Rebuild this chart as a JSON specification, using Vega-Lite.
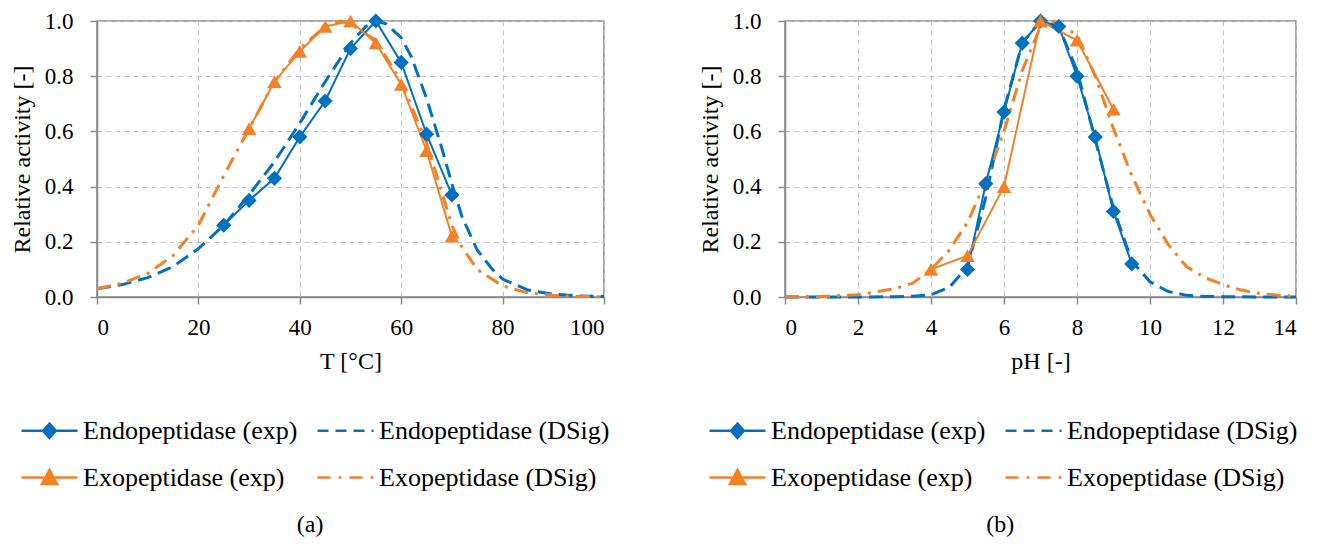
{
  "$schema": "https://vega.github.io/schema/vega-lite/v6.json",
  "background": "white",
  "padding": {"left": 9, "top": 9, "right": 5, "bottom": 5},
  "datasets": {
    "temp": [
      {"series": "Endopeptidase (exp)", "x": 25, "y": 0.26},
      {"series": "Endopeptidase (exp)", "x": 30, "y": 0.35},
      {"series": "Endopeptidase (exp)", "x": 35, "y": 0.43},
      {"series": "Endopeptidase (exp)", "x": 40, "y": 0.58},
      {"series": "Endopeptidase (exp)", "x": 45, "y": 0.71},
      {"series": "Endopeptidase (exp)", "x": 50, "y": 0.90},
      {"series": "Endopeptidase (exp)", "x": 55, "y": 1.00},
      {"series": "Endopeptidase (exp)", "x": 60, "y": 0.85},
      {"series": "Endopeptidase (exp)", "x": 65, "y": 0.59},
      {"series": "Endopeptidase (exp)", "x": 70, "y": 0.37},
      {"series": "Exopeptidase (exp)", "x": 30, "y": 0.61},
      {"series": "Exopeptidase (exp)", "x": 35, "y": 0.78},
      {"series": "Exopeptidase (exp)", "x": 40, "y": 0.89},
      {"series": "Exopeptidase (exp)", "x": 45, "y": 0.98},
      {"series": "Exopeptidase (exp)", "x": 50, "y": 1.00},
      {"series": "Exopeptidase (exp)", "x": 55, "y": 0.92},
      {"series": "Exopeptidase (exp)", "x": 60, "y": 0.77},
      {"series": "Exopeptidase (exp)", "x": 65, "y": 0.53},
      {"series": "Exopeptidase (exp)", "x": 70, "y": 0.22},
      {"series": "Endopeptidase (DSig)", "x": 0, "y": 0.03},
      {"series": "Endopeptidase (DSig)", "x": 5, "y": 0.045},
      {"series": "Endopeptidase (DSig)", "x": 10, "y": 0.07},
      {"series": "Endopeptidase (DSig)", "x": 15, "y": 0.11},
      {"series": "Endopeptidase (DSig)", "x": 20, "y": 0.175},
      {"series": "Endopeptidase (DSig)", "x": 25, "y": 0.26},
      {"series": "Endopeptidase (DSig)", "x": 30, "y": 0.37},
      {"series": "Endopeptidase (DSig)", "x": 35, "y": 0.49},
      {"series": "Endopeptidase (DSig)", "x": 40, "y": 0.63},
      {"series": "Endopeptidase (DSig)", "x": 45, "y": 0.78},
      {"series": "Endopeptidase (DSig)", "x": 50, "y": 0.92},
      {"series": "Endopeptidase (DSig)", "x": 53, "y": 0.98},
      {"series": "Endopeptidase (DSig)", "x": 55, "y": 1.0},
      {"series": "Endopeptidase (DSig)", "x": 57, "y": 0.99},
      {"series": "Endopeptidase (DSig)", "x": 60, "y": 0.94},
      {"series": "Endopeptidase (DSig)", "x": 62, "y": 0.87},
      {"series": "Endopeptidase (DSig)", "x": 65, "y": 0.72},
      {"series": "Endopeptidase (DSig)", "x": 68, "y": 0.54},
      {"series": "Endopeptidase (DSig)", "x": 70, "y": 0.41},
      {"series": "Endopeptidase (DSig)", "x": 72, "y": 0.29},
      {"series": "Endopeptidase (DSig)", "x": 75, "y": 0.17},
      {"series": "Endopeptidase (DSig)", "x": 78, "y": 0.10},
      {"series": "Endopeptidase (DSig)", "x": 80, "y": 0.065},
      {"series": "Endopeptidase (DSig)", "x": 85, "y": 0.025},
      {"series": "Endopeptidase (DSig)", "x": 90, "y": 0.01},
      {"series": "Endopeptidase (DSig)", "x": 95, "y": 0.004},
      {"series": "Endopeptidase (DSig)", "x": 100, "y": 0.002},
      {"series": "Exopeptidase (DSig)", "x": 0, "y": 0.03},
      {"series": "Exopeptidase (DSig)", "x": 5, "y": 0.05},
      {"series": "Exopeptidase (DSig)", "x": 10, "y": 0.085},
      {"series": "Exopeptidase (DSig)", "x": 15, "y": 0.15},
      {"series": "Exopeptidase (DSig)", "x": 20, "y": 0.26},
      {"series": "Exopeptidase (DSig)", "x": 25, "y": 0.44},
      {"series": "Exopeptidase (DSig)", "x": 30, "y": 0.61},
      {"series": "Exopeptidase (DSig)", "x": 35, "y": 0.78},
      {"series": "Exopeptidase (DSig)", "x": 40, "y": 0.90},
      {"series": "Exopeptidase (DSig)", "x": 45, "y": 0.98},
      {"series": "Exopeptidase (DSig)", "x": 48, "y": 1.0},
      {"series": "Exopeptidase (DSig)", "x": 50, "y": 0.99},
      {"series": "Exopeptidase (DSig)", "x": 55, "y": 0.93},
      {"series": "Exopeptidase (DSig)", "x": 60, "y": 0.78},
      {"series": "Exopeptidase (DSig)", "x": 65, "y": 0.56},
      {"series": "Exopeptidase (DSig)", "x": 68, "y": 0.38},
      {"series": "Exopeptidase (DSig)", "x": 70, "y": 0.26},
      {"series": "Exopeptidase (DSig)", "x": 72, "y": 0.18},
      {"series": "Exopeptidase (DSig)", "x": 75, "y": 0.10},
      {"series": "Exopeptidase (DSig)", "x": 80, "y": 0.04},
      {"series": "Exopeptidase (DSig)", "x": 85, "y": 0.015},
      {"series": "Exopeptidase (DSig)", "x": 90, "y": 0.006},
      {"series": "Exopeptidase (DSig)", "x": 95, "y": 0.002},
      {"series": "Exopeptidase (DSig)", "x": 100, "y": 0.001}
    ],
    "ph": [
      {"series": "Endopeptidase (exp)", "x": 5, "y": 0.10},
      {"series": "Endopeptidase (exp)", "x": 5.5, "y": 0.41},
      {"series": "Endopeptidase (exp)", "x": 6, "y": 0.67},
      {"series": "Endopeptidase (exp)", "x": 6.5, "y": 0.92},
      {"series": "Endopeptidase (exp)", "x": 7, "y": 1.00},
      {"series": "Endopeptidase (exp)", "x": 7.5, "y": 0.98},
      {"series": "Endopeptidase (exp)", "x": 8, "y": 0.80},
      {"series": "Endopeptidase (exp)", "x": 8.5, "y": 0.58},
      {"series": "Endopeptidase (exp)", "x": 9, "y": 0.31},
      {"series": "Endopeptidase (exp)", "x": 9.5, "y": 0.12},
      {"series": "Exopeptidase (exp)", "x": 4, "y": 0.10},
      {"series": "Exopeptidase (exp)", "x": 5, "y": 0.15},
      {"series": "Exopeptidase (exp)", "x": 6, "y": 0.40},
      {"series": "Exopeptidase (exp)", "x": 7, "y": 1.00},
      {"series": "Exopeptidase (exp)", "x": 8, "y": 0.93},
      {"series": "Exopeptidase (exp)", "x": 9, "y": 0.68},
      {"series": "Endopeptidase (DSig)", "x": 0, "y": 0},
      {"series": "Endopeptidase (DSig)", "x": 1, "y": 0},
      {"series": "Endopeptidase (DSig)", "x": 2, "y": 0},
      {"series": "Endopeptidase (DSig)", "x": 3, "y": 0.001},
      {"series": "Endopeptidase (DSig)", "x": 3.5, "y": 0.003},
      {"series": "Endopeptidase (DSig)", "x": 4, "y": 0.008},
      {"series": "Endopeptidase (DSig)", "x": 4.5, "y": 0.035},
      {"series": "Endopeptidase (DSig)", "x": 5, "y": 0.11},
      {"series": "Endopeptidase (DSig)", "x": 5.5, "y": 0.36},
      {"series": "Endopeptidase (DSig)", "x": 6, "y": 0.68},
      {"series": "Endopeptidase (DSig)", "x": 6.5, "y": 0.92},
      {"series": "Endopeptidase (DSig)", "x": 7, "y": 1.0},
      {"series": "Endopeptidase (DSig)", "x": 7.5, "y": 0.98},
      {"series": "Endopeptidase (DSig)", "x": 8, "y": 0.82},
      {"series": "Endopeptidase (DSig)", "x": 8.5, "y": 0.57},
      {"series": "Endopeptidase (DSig)", "x": 9, "y": 0.32},
      {"series": "Endopeptidase (DSig)", "x": 9.5, "y": 0.13},
      {"series": "Endopeptidase (DSig)", "x": 10, "y": 0.055},
      {"series": "Endopeptidase (DSig)", "x": 10.5, "y": 0.02},
      {"series": "Endopeptidase (DSig)", "x": 11, "y": 0.006},
      {"series": "Endopeptidase (DSig)", "x": 11.5, "y": 0.002},
      {"series": "Endopeptidase (DSig)", "x": 12, "y": 0.001},
      {"series": "Endopeptidase (DSig)", "x": 13, "y": 0},
      {"series": "Endopeptidase (DSig)", "x": 14, "y": 0},
      {"series": "Exopeptidase (DSig)", "x": 0, "y": 0},
      {"series": "Exopeptidase (DSig)", "x": 1, "y": 0.002},
      {"series": "Exopeptidase (DSig)", "x": 2, "y": 0.008},
      {"series": "Exopeptidase (DSig)", "x": 3, "y": 0.03},
      {"series": "Exopeptidase (DSig)", "x": 3.5, "y": 0.05},
      {"series": "Exopeptidase (DSig)", "x": 4, "y": 0.10},
      {"series": "Exopeptidase (DSig)", "x": 4.5, "y": 0.17},
      {"series": "Exopeptidase (DSig)", "x": 5, "y": 0.27},
      {"series": "Exopeptidase (DSig)", "x": 5.5, "y": 0.42},
      {"series": "Exopeptidase (DSig)", "x": 6, "y": 0.60},
      {"series": "Exopeptidase (DSig)", "x": 6.5, "y": 0.82},
      {"series": "Exopeptidase (DSig)", "x": 7, "y": 0.98},
      {"series": "Exopeptidase (DSig)", "x": 7.3, "y": 1.0},
      {"series": "Exopeptidase (DSig)", "x": 7.5, "y": 0.99},
      {"series": "Exopeptidase (DSig)", "x": 8, "y": 0.95},
      {"series": "Exopeptidase (DSig)", "x": 8.5, "y": 0.80},
      {"series": "Exopeptidase (DSig)", "x": 9, "y": 0.61},
      {"series": "Exopeptidase (DSig)", "x": 9.5, "y": 0.44},
      {"series": "Exopeptidase (DSig)", "x": 10, "y": 0.30},
      {"series": "Exopeptidase (DSig)", "x": 10.5, "y": 0.19},
      {"series": "Exopeptidase (DSig)", "x": 11, "y": 0.11},
      {"series": "Exopeptidase (DSig)", "x": 11.5, "y": 0.07},
      {"series": "Exopeptidase (DSig)", "x": 12, "y": 0.045},
      {"series": "Exopeptidase (DSig)", "x": 12.5, "y": 0.025},
      {"series": "Exopeptidase (DSig)", "x": 13, "y": 0.013},
      {"series": "Exopeptidase (DSig)", "x": 13.5, "y": 0.006},
      {"series": "Exopeptidase (DSig)", "x": 14, "y": 0.003}
    ]
  },
  "hconcat": [
    {
      "width": 507,
      "height": 276,
      "data": {"name": "temp"},
      "title": {"text": "(a)", "orient": "bottom", "anchor": "middle", "frame": "bounds", "offset": 22},
      "layer": [
        {
          "transform": [{"filter": "indexof(datum.series, 'DSig') >= 0"}],
          "mark": {"type": "line", "strokeWidth": 3},
          "encoding": {
            "x": {"field": "x", "type": "quantitative", "scale": {"domain": [0, 100], "nice": false}, "axis": {"title": "T [°C]", "values": [0, 20, 40, 60, 80, 100], "labelFont": "Liberation Serif", "labelFontSize": 23, "labelColor": "black", "titleFont": "Liberation Serif"}},
            "y": {"field": "y", "type": "quantitative", "scale": {"domain": [0, 1], "nice": false}, "axis": {"title": "Relative activity [-]", "values": [0, 0.2, 0.4, 0.6, 0.8, 1.0], "format": ".1f", "labelFont": "Liberation Serif", "labelFontSize": 23, "labelColor": "black", "titleFont": "Liberation Serif"}},
            "color": {"field": "series", "type": "nominal", "scale": {"domain": ["Endopeptidase (exp)", "Endopeptidase (DSig)", "Exopeptidase (exp)", "Exopeptidase (DSig)"], "range": ["#0070C0", "#0070C0", "#F58025", "#F58025"]},
              "legend": {"orient": "none", "direction": "horizontal", "legendX": -69, "legendY": 388, "columns": 2, "title": null, "symbolSize": 1600, "labelFont": "Liberation Serif", "labelFontSize": 26, "labelColor": "black", "labelOffset": 12, "columnPadding": 14, "rowPadding": 12, "labelLimit": 400,
                "encode": {"symbols": {"update": {
                  "shape": {"signal": "datum.value === 'Endopeptidase (exp)' ? 'M-1.4,0L1.4,0M-0.32,0L0,-0.36L0.32,0L0,0.36Z' : datum.value === 'Exopeptidase (exp)' ? 'M-1.4,0L1.4,0M-0.38,0.33L0,-0.38L0.38,0.33Z' : 'M-1.4,0L1.4,0'"},
                  "strokeDash": {"signal": "datum.value === 'Endopeptidase (DSig)' ? [11,7] : datum.value === 'Exopeptidase (DSig)' ? [13,8,3,8] : [1,0]"},
                  "fill": {"signal": "datum.value === 'Endopeptidase (exp)' ? '#0070C0' : datum.value === 'Exopeptidase (exp)' ? '#F58025' : 'transparent'"},
                  "stroke": {"signal": "datum.value === 'Endopeptidase (exp)' || datum.value === 'Endopeptidase (DSig)' ? '#0070C0' : '#F58025'"},
                  "strokeWidth": {"value": 2.5},
                  "opacity": {"value": 1}
                }}}}},
            "strokeDash": {"field": "series", "type": "nominal", "scale": {"domain": ["Endopeptidase (DSig)", "Exopeptidase (DSig)"], "range": [[14, 7], [14, 7, 3, 7]]}, "legend": null}
          }
        },
        {
          "transform": [{"filter": "indexof(datum.series, 'exp') >= 0"}],
          "mark": {"type": "line", "strokeWidth": 2},
          "encoding": {
            "x": {"field": "x", "type": "quantitative"},
            "y": {"field": "y", "type": "quantitative"},
            "color": {"field": "series", "type": "nominal"}
          }
        },
        {
          "transform": [{"filter": "indexof(datum.series, 'exp') >= 0"}],
          "mark": {"type": "point", "filled": true, "opacity": 1},
          "encoding": {
            "x": {"field": "x", "type": "quantitative"},
            "y": {"field": "y", "type": "quantitative"},
            "color": {"field": "series", "type": "nominal"},
            "shape": {"field": "series", "type": "nominal", "scale": {"domain": ["Endopeptidase (exp)", "Exopeptidase (exp)"], "range": ["diamond", "triangle-up"]}, "legend": null},
            "size": {"field": "series", "type": "nominal", "scale": {"domain": ["Endopeptidase (exp)", "Exopeptidase (exp)"], "range": [230, 210]}, "legend": null}
          }
        }
      ]
    },
    {
      "width": 511,
      "height": 276,
      "data": {"name": "ph"},
      "title": {"text": "(b)", "orient": "bottom", "anchor": "middle", "frame": "bounds", "offset": 22},
      "layer": [
        {
          "transform": [{"filter": "indexof(datum.series, 'DSig') >= 0"}],
          "mark": {"type": "line", "strokeWidth": 3},
          "encoding": {
            "x": {"field": "x", "type": "quantitative", "scale": {"domain": [0, 14], "nice": false}, "axis": {"title": "pH [-]", "values": [0, 2, 4, 6, 8, 10, 12, 14], "labelFont": "Liberation Serif", "labelFontSize": 23, "labelColor": "black", "titleFont": "Liberation Serif"}},
            "y": {"field": "y", "type": "quantitative", "scale": {"domain": [0, 1], "nice": false}, "axis": {"title": "Relative activity [-]", "values": [0, 0.2, 0.4, 0.6, 0.8, 1.0], "format": ".1f", "labelFont": "Liberation Serif", "labelFontSize": 23, "labelColor": "black", "titleFont": "Liberation Serif"}},
            "color": {"field": "series", "type": "nominal", "scale": {"domain": ["Endopeptidase (exp)", "Endopeptidase (DSig)", "Exopeptidase (exp)", "Exopeptidase (DSig)"], "range": ["#0070C0", "#0070C0", "#F58025", "#F58025"]},
              "legend": {"orient": "none", "direction": "horizontal", "legendX": -69, "legendY": 388, "columns": 2, "title": null, "symbolSize": 1600, "labelFont": "Liberation Serif", "labelFontSize": 26, "labelColor": "black", "labelOffset": 12, "columnPadding": 14, "rowPadding": 12, "labelLimit": 400,
                "encode": {"symbols": {"update": {
                  "shape": {"signal": "datum.value === 'Endopeptidase (exp)' ? 'M-1.4,0L1.4,0M-0.32,0L0,-0.36L0.32,0L0,0.36Z' : datum.value === 'Exopeptidase (exp)' ? 'M-1.4,0L1.4,0M-0.38,0.33L0,-0.38L0.38,0.33Z' : 'M-1.4,0L1.4,0'"},
                  "strokeDash": {"signal": "datum.value === 'Endopeptidase (DSig)' ? [11,7] : datum.value === 'Exopeptidase (DSig)' ? [13,8,3,8] : [1,0]"},
                  "fill": {"signal": "datum.value === 'Endopeptidase (exp)' ? '#0070C0' : datum.value === 'Exopeptidase (exp)' ? '#F58025' : 'transparent'"},
                  "stroke": {"signal": "datum.value === 'Endopeptidase (exp)' || datum.value === 'Endopeptidase (DSig)' ? '#0070C0' : '#F58025'"},
                  "strokeWidth": {"value": 2.5},
                  "opacity": {"value": 1}
                }}}}},
            "strokeDash": {"field": "series", "type": "nominal", "scale": {"domain": ["Endopeptidase (DSig)", "Exopeptidase (DSig)"], "range": [[14, 7], [14, 7, 3, 7]]}, "legend": null}
          }
        },
        {
          "transform": [{"filter": "indexof(datum.series, 'exp') >= 0"}],
          "mark": {"type": "line", "strokeWidth": 2},
          "encoding": {
            "x": {"field": "x", "type": "quantitative"},
            "y": {"field": "y", "type": "quantitative"},
            "color": {"field": "series", "type": "nominal"}
          }
        },
        {
          "transform": [{"filter": "indexof(datum.series, 'exp') >= 0"}],
          "mark": {"type": "point", "filled": true, "opacity": 1},
          "encoding": {
            "x": {"field": "x", "type": "quantitative"},
            "y": {"field": "y", "type": "quantitative"},
            "color": {"field": "series", "type": "nominal"},
            "shape": {"field": "series", "type": "nominal", "scale": {"domain": ["Endopeptidase (exp)", "Exopeptidase (exp)"], "range": ["diamond", "triangle-up"]}, "legend": null},
            "size": {"field": "series", "type": "nominal", "scale": {"domain": ["Endopeptidase (exp)", "Exopeptidase (exp)"], "range": [230, 210]}, "legend": null}
          }
        }
      ]
    }
  ],
  "spacing": 86,
  "resolve": {"scale": {"color": "independent", "shape": "independent", "size": "independent", "strokeDash": "independent"}, "legend": {"color": "independent"}},
  "config": {
    "font": "Liberation Serif",
    "view": {"stroke": "#898989", "strokeWidth": 1.5},
    "style": {
      "guide-label": {"font": "Liberation Serif", "fontSize": 23, "fill": "black"},
      "guide-title": {"font": "Liberation Serif", "fontSize": 24, "fontWeight": "normal", "fill": "black"}
    },
    "title": {"font": "Liberation Serif", "fontSize": 24, "fontWeight": "normal", "color": "black"},
    "legend": {"labelFont": "Liberation Serif"},
    "axis": {
      "domainColor": "#898989", "domainWidth": 1.5,
      "tickColor": "#898989", "tickWidth": 1.5, "tickSize": 7,
      "gridColor": "#c4c4c4", "gridDash": [5, 4], "gridWidth": 1,
      "labelFont": "Liberation Serif", "labelFontSize": 23, "labelColor": "black",
      "titleFont": "Liberation Serif", "titleFontSize": 24, "titleFontWeight": "normal", "titleColor": "black"
    },
    "axisY": {"labelPadding": 17, "titlePadding": 10},
    "axisX": {"labelPadding": 12, "titlePadding": 10}
  }
}
